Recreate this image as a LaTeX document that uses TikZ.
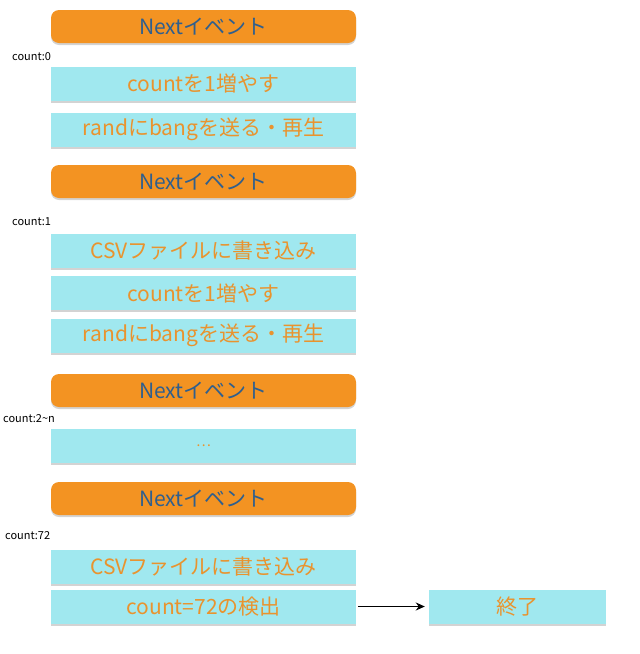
\documentclass[tikz,border=0pt]{standalone}
\usepackage{fontspec}
\setmainfont{Noto Sans CJK JP}
\usepackage{tikz}
\usetikzlibrary{calc,shadows,arrows.meta}

\definecolor{evorange}{HTML}{F39322}
\definecolor{evblue}{HTML}{2F5F8E}
\definecolor{stcyan}{HTML}{A0E8EF}
\definecolor{sttext}{HTML}{E9932E}

\tikzset{
	nextev/.style={fill=evorange, rounded corners=8pt, minimum width=305pt, minimum height=33pt,
		text=evblue, font=\fontsize{21}{21}\selectfont, inner sep=0pt,
		drop shadow={shadow xshift=0pt, shadow yshift=-2pt, opacity=0.35}},
	stepbox/.style={fill=stcyan, minimum width=305pt, minimum height=34pt,
		text=sttext, font=\fontsize{21}{21}\selectfont, inner sep=0pt,
		drop shadow={shadow xshift=0pt, shadow yshift=-2pt, opacity=0.35}},
	cntlabel/.style={anchor=west, inner sep=0pt, font=\fontsize{11}{11}\selectfont}
}

\begin{document}
\begin{tikzpicture}[x=1pt,y=-1pt]
	\useasboundingbox (0,0) rectangle (640,654);
	\newcommand{\cx}{203.5} %箱の中心x
	% count:0
	\node[nextev] (next0) at (\cx,26.5) {Nextイベント};
	\node[cntlabel] (lab0) at (12,57) {count:0};
	\node[stepbox] (inc0) at (\cx,83.5) {countを1増やす};
	\node[stepbox] (rand0) at (\cx,129.5) {randにbangを送る・再生};
	% count:1
	\node[nextev] (next1) at (\cx,181.5) {Nextイベント};
	\node[cntlabel] (lab1) at (12,222) {count:1};
	\node[stepbox] (csv1) at (\cx,250.5) {CSVファイルに書き込み};
	\node[stepbox] (inc1) at (\cx,293) {countを1増やす};
	\node[stepbox] (rand1) at (\cx,335.5) {randにbangを送る・再生};
	% count:2~n
	\node[nextev] (next2) at (\cx,390.5) {Nextイベント};
	\node[cntlabel] (lab2) at (3,419) {count:2\textasciitilde n};
	\node[stepbox] (dots) at (\cx,445.5) {\color{sttext}\fontsize{14}{14}\selectfont …};
	% count:72
	\node[nextev] (next3) at (\cx,498.5) {Nextイベント};
	\node[cntlabel] (lab3) at (5,536) {count:72};
	\node[stepbox] (csv3) at (\cx,566.5) {CSVファイルに書き込み};
	\node[stepbox] (det3) at (\cx,606.5) {count=72の検出};
	\node[stepbox, minimum width=177pt] (fin) at (517.5,606.5) {終了};
	\draw[line width=1.8pt, -{Stealth[length=9pt,width=8pt]}, shorten <=2pt, shorten >=4pt] (det3) -- (fin); %終了へ
\end{tikzpicture}
\end{document}
